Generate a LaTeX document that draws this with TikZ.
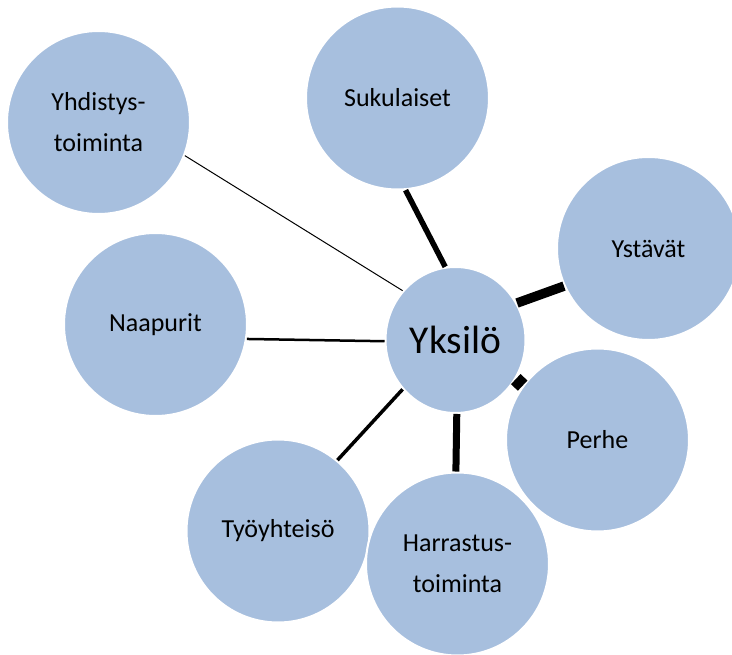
\documentclass[tikz,border=0pt]{standalone}
\usepackage{fontspec}
\setmainfont{Carlito}
\usetikzlibrary{shapes.geometric}
\definecolor{bubbleblue}{RGB}{167,191,222}

\begin{document}
\begin{tikzpicture}[x=1pt, y=-1pt,
		bubble/.style = {circle, fill=bubbleblue, draw=white, line width=2pt, minimum size=183pt, inner sep=0pt, align=center, font=\fontsize{26}{41}\selectfont},
		centre/.style = {ellipse, fill=bubbleblue, draw=white, line width=2pt, minimum width=140pt, minimum height=146pt, inner sep=0pt, font=\fontsize{39.5}{44}\selectfont}]
				\useasboundingbox (0,0) rectangle (732,655);
				% nodes
				\node[bubble] (yhdistys) at (98.5,122.5) {Yhdistys-\\toiminta};
				\node[bubble] (sukulaiset) at (397.5,98) {Sukulaiset};
				\node[bubble] (ystavat) at (648.5,248.5) {Ystävät};
				\node[bubble] (naapurit) at (155.5,324.5) {Naapurit};
				\node[centre] (yksilo) at (455.5,340) {Yksilö};
				\node[bubble] (perhe) at (597.5,440) {Perhe};
				\node[bubble] (tyoyhteiso) at (278,531) {Työyhteisö};
				\node[bubble] (harrastus) at (457.5,564) {Harrastus-\\toiminta};

				% connections
				\draw[line width=1pt] (yhdistys.-21) -- (yksilo.137);
				\draw[line width=5.5pt] (sukulaiset.-85) -- (yksilo.98);
				\draw[line width=9.5pt] (ystavat.204) -- (yksilo.31);
				\draw[line width=2.5pt] (naapurit.-9) -- (yksilo.181);
				\draw[line width=14pt] (perhe.144) -- (yksilo.-33);
				\draw[line width=3.5pt] (tyoyhteiso.50) -- (yksilo.223);
				\draw[line width=7pt] (harrastus.91) -- (yksilo.-89);
\end{tikzpicture}
\end{document}
